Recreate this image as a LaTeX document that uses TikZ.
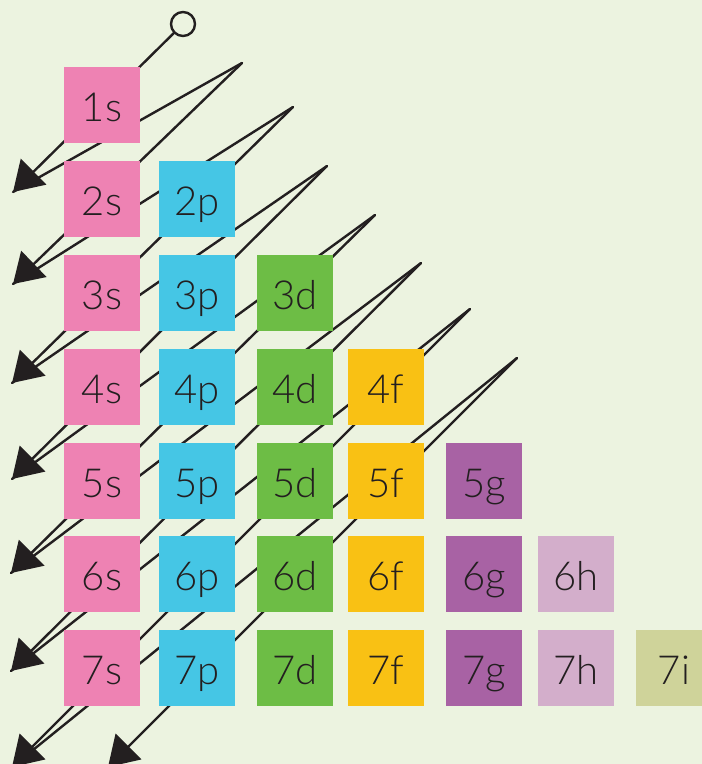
\documentclass[tikz,border=0pt]{standalone}
\usepackage{fontspec}
\setmainfont{Lato}[UprightFont={* Light}]
\usetikzlibrary{arrows.meta}
\definecolor{bg}{RGB}{236,243,224}
\definecolor{ink}{RGB}{35,31,32}
\definecolor{cs}{RGB}{238,130,179}
\definecolor{cp}{RGB}{69,198,229}
\definecolor{cd}{RGB}{109,189,69}
\definecolor{cf}{RGB}{249,193,20}
\definecolor{cg}{RGB}{168,98,164}
\definecolor{ch}{RGB}{211,174,203}
\definecolor{ci}{RGB}{207,211,154}
\begin{document}
\begin{tikzpicture}[x=1pt,y=-1pt,
  orb/.style={minimum size=76pt, inner sep=0pt, text=ink,
    font=\fontsize{40}{42}\selectfont, text height=35pt, text depth=3pt},
  ln/.style={draw=ink, line width=2.4pt, line cap=round},
  arr/.style={ln, -{Triangle[length=29pt,width=36pt]}}]
\clip (0,0) rectangle (702,764);
\fill[bg] (0,0) rectangle (702,764);
% turning points
\coordinate (T1) at (13,192);
\coordinate (T2) at (13,284);
\coordinate (T3) at (12,383);
\coordinate (T4) at (12,479);
\coordinate (T5) at (11,573);
\coordinate (T6) at (11,671);
\coordinate (T7) at (12,767);
\coordinate (T8) at (108,767);
\coordinate (P1) at (242,63);
\coordinate (P2) at (293,107);
\coordinate (P3) at (327,166);
\coordinate (P4) at (375,215);
\coordinate (P5) at (421,263);
\coordinate (P6) at (470,309);
\coordinate (P7) at (517,358);
\node[circle, draw=ink, line width=2.4pt, fill=bg, minimum size=24pt, inner sep=0pt] (start) at (183,24) {};
\draw[arr] (start) -- (T1);
\draw[ln] (T1) -- (P1); \draw[arr] (P1) -- (T2);
\draw[ln] (T2) -- (P2); \draw[arr] (P2) -- (T3);
\draw[ln] (T3) -- (P3); \draw[arr] (P3) -- (T4);
\draw[ln] (T4) -- (P4); \draw[arr] (P4) -- (T5);
\draw[ln] (T5) -- (P5); \draw[arr] (P5) -- (T6);
\draw[ln] (T6) -- (P6); \draw[arr] (P6) -- (T7);
\draw[ln] (T7) -- (P7); \draw[arr] (P7) -- (T8);
% orbitals
\node[orb, fill=cs] (o1s) at (102,105) {1s};
\node[orb, fill=cs] (o2s) at (102,199) {2s};
\node[orb, fill=cp] (o2p) at (197,199) {2p};
\node[orb, fill=cs] (o3s) at (102,293) {3s};
\node[orb, fill=cp] (o3p) at (197,293) {3p};
\node[orb, fill=cd] (o3d) at (295,293) {3d};
\node[orb, fill=cs] (o4s) at (102,387) {4s};
\node[orb, fill=cp] (o4p) at (197,387) {4p};
\node[orb, fill=cd] (o4d) at (295,387) {4d};
\node[orb, fill=cf] (o4f) at (386,387) {4f};
\node[orb, fill=cs] (o5s) at (102,481) {5s};
\node[orb, fill=cp] (o5p) at (197,481) {5p};
\node[orb, fill=cd] (o5d) at (295,481) {5d};
\node[orb, fill=cf] (o5f) at (386,481) {5f};
\node[orb, fill=cg] (o5g) at (484,481) {5g};
\node[orb, fill=cs] (o6s) at (102,574) {6s};
\node[orb, fill=cp] (o6p) at (197,574) {6p};
\node[orb, fill=cd] (o6d) at (295,574) {6d};
\node[orb, fill=cf] (o6f) at (386,574) {6f};
\node[orb, fill=cg] (o6g) at (484,574) {6g};
\node[orb, fill=ch] (o6h) at (576,574) {6h};
\node[orb, fill=cs] (o7s) at (102,668) {7s};
\node[orb, fill=cp] (o7p) at (197,668) {7p};
\node[orb, fill=cd] (o7d) at (295,668) {7d};
\node[orb, fill=cf] (o7f) at (386,668) {7f};
\node[orb, fill=cg] (o7g) at (484,668) {7g};
\node[orb, fill=ch] (o7h) at (576,668) {7h};
\node[orb, fill=ci] (o7i) at (674,668) {7i};
\end{tikzpicture}
\end{document}
